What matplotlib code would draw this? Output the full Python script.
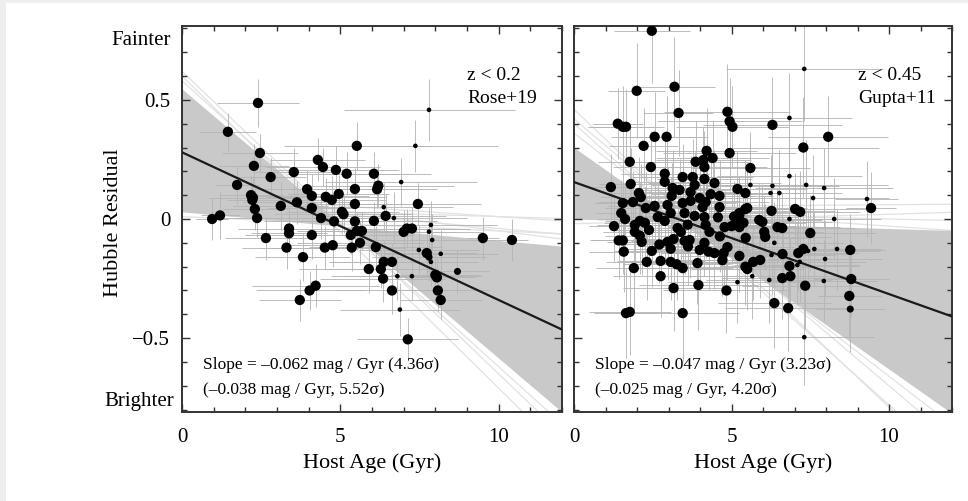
import numpy as np
import matplotlib
matplotlib.use('Agg')
import matplotlib.pyplot as plt
from matplotlib.patches import Rectangle
from matplotlib.ticker import MultipleLocator, FixedLocator, NullFormatter

plt.rcParams['font.family'] = ['Liberation Serif', 'DejaVu Serif']

# ---------------- Left panel data (z < 0.2, Rose+19) ----------------
l_age = [0.95, 1.20, 1.45, 1.74, 2.40, 2.27, 2.46, 2.18, 2.24, 2.22,
         2.30, 2.37, 2.65, 2.80, 3.12, 3.38, 3.38, 3.30, 3.53, 3.63,
         3.82, 3.72, 4.03, 4.22, 3.95, 4.10, 4.10, 4.10, 4.29, 4.45,
         4.39, 4.54, 4.51, 4.73, 4.80, 4.76, 4.86, 4.95, 5.05, 5.10,
         5.20, 5.33, 5.36, 5.46, 5.46, 5.46, 5.52, 5.52, 5.62, 5.68,
         5.90, 6.06, 6.06, 6.20, 6.16, 6.12, 6.28, 6.35, 6.37, 6.37,
         6.43, 6.63, 6.63, 6.69, 6.80, 6.88, 6.92, 7.00, 7.10, 7.13,
         7.26, 7.26, 7.37, 7.45, 7.48, 7.73, 7.80, 7.80, 7.86, 7.80,
         7.90, 7.86, 8.17, 8.00, 8.05, 8.08, 8.17, 8.70, 9.50, 10.42]
l_hr = [0.000, 0.015, 0.366, 0.143, 0.487, 0.223, 0.277, 0.100, 0.090, 0.080,
        0.042, 0.004, -0.080, 0.176, 0.055, -0.040, -0.060, -0.120, 0.197, 0.070,
        -0.160, -0.340, -0.300, -0.280, 0.125, 0.097, 0.046, -0.067, 0.248, 0.218,
        0.004, 0.093, -0.120, 0.080, -0.010, -0.110, 0.206, 0.105, 0.030, 0.020,
        0.190, -0.067, -0.120, 0.126, 0.063, -0.010, 0.307, -0.050, -0.100, -0.050,
        -0.210, 0.190, -0.008, 0.140, 0.125, -0.118, -0.210, -0.250, -0.180, 0.050,
        0.013, -0.180, -0.300, 0.004, -0.240, -0.380, 0.155, -0.054, -0.040, -0.505,
        -0.040, -0.240, 0.307, 0.063, -0.130, -0.143, -0.160, 0.458, -0.025, -0.053,
        -0.088, -0.180, -0.146, -0.235, -0.245, -0.300, -0.340, -0.220, -0.080, -0.088]
l_xerr = [0.5, 0.6, 0.9, 0.7, 1.3, 1.1, 1.2, 1.0, 1.4, 0.8,
          1.0, 1.2, 1.3, 1.1, 1.5, 1.6, 1.2, 1.4, 1.3, 1.7,
          1.5, 1.3, 1.7, 2.0, 1.6, 1.8, 1.4, 2.1, 1.5, 1.8,
          1.6, 1.9, 2.0, 1.7, 2.2, 1.5, 2.0, 1.6, 1.8, 2.2,
          1.9, 2.0, 1.7, 2.1, 1.6, 1.8, 2.3, 1.9, 2.0, 1.5,
          2.2, 1.8, 2.0, 2.4, 1.9, 2.1, 1.8, 2.0, 1.7, 2.2,
          1.9, 2.0, 1.8, 2.3, 2.1, 1.9, 2.4, 1.7, 2.0, 1.6,
          1.8, 2.2, 2.6, 2.0, 1.9, 1.6, 1.8, 2.7, 2.1, 1.7,
          2.0, 1.5, 1.8, 1.4, 1.2, 1.6, 1.3, 1.0, 0.5, 0.5]
l_yerr = [0.09, 0.10, 0.08, 0.08, 0.10, 0.09, 0.08, 0.08, 0.09, 0.07,
          0.09, 0.08, 0.09, 0.08, 0.10, 0.09, 0.08, 0.09, 0.10, 0.09,
          0.10, 0.09, 0.08, 0.09, 0.08, 0.09, 0.08, 0.10, 0.09, 0.08,
          0.09, 0.08, 0.09, 0.10, 0.08, 0.09, 0.10, 0.08, 0.09, 0.08,
          0.09, 0.08, 0.10, 0.09, 0.08, 0.09, 0.10, 0.08, 0.09, 0.08,
          0.10, 0.09, 0.08, 0.09, 0.08, 0.09, 0.08, 0.10, 0.09, 0.10,
          0.09, 0.08, 0.10, 0.11, 0.10, 0.11, 0.10, 0.09, 0.08, 0.09,
          0.09, 0.10, 0.11, 0.09, 0.10, 0.09, 0.10, 0.13, 0.10, 0.10,
          0.11, 0.10, 0.10, 0.09, 0.08, 0.09, 0.08, 0.09, 0.09, 0.09]
l_size = list("BBBBBBBBBB" "BBBBBBBBBB" "BBBBBBBBBB" "BBBBBBBBBB" "BBBBBBBBBB"
              "BBBBBBBBBS" "BBBSSSSBBB" "BSSBSBMSSS" "SSSBBBBMBB")

# ---------------- Right panel data (z < 0.45, Gupta+11) ----------------
r_age = [2.47, 1.99, 3.19, 3.32, 1.39, 1.55, 1.65, 2.56, 2.94, 2.21,
         4.87, 4.94, 5.03, 4.94, 5.60, 1.77, 2.44, 4.21, 4.40, 4.11,
         4.14, 3.86, 2.88, 2.88, 1.17, 1.80, 3.45, 3.77, 4.14, 4.46,
         4.62, 5.19, 5.44, 5.60, 2.06, 2.12, 3.13, 3.35, 3.70, 3.83,
         3.99, 1.55, 1.87, 2.28, 2.56, 2.97, 3.45, 3.70, 4.18, 4.62,
         5.25, 5.50, 7.31, 6.30, 6.84, 7.28, 8.07, 6.84, 6.30, 6.24,
         6.52, 7.37, 7.94, 7.59, 9.30, 9.43, 6.27, 7.02, 7.18, 6.84,
         8.26, 1.27, 1.42, 1.55, 1.58, 1.90, 2.31, 2.75, 2.75, 3.16,
         3.07, 3.26, 3.45, 3.45, 2.47, 2.15, 2.97, 3.16, 3.51, 3.67,
         1.93, 1.93, 2.09, 2.25, 2.66, 2.88, 3.29, 3.39, 3.07, 3.51,
         3.83, 4.14, 4.08, 3.92, 3.95, 3.99, 4.14, 4.27, 4.46, 4.75,
         4.87, 4.78, 4.84, 5.19, 5.25, 5.44, 5.50, 5.66, 4.18, 4.30,
         5.00, 5.19, 5.25, 5.44, 5.25, 5.38, 5.69, 1.65, 1.77, 5.88,
         5.98, 6.04, 6.07, 6.46, 6.61, 7.50, 6.36, 5.91, 6.27, 6.62,
         7.12, 7.28, 7.43, 7.63, 8.35, 8.77, 7.97, 7.09, 6.84, 6.61,
         6.87, 6.20, 7.93, 7.34, 8.80, 8.74, 8.77, 6.36, 6.80, 7.31,
         1.62, 1.50, 2.38, 2.71, 3.61, 4.57, 5.08, 2.09, 4.63, 5.45,
         3.07, 3.62, 4.71, 7.17, 4.34, 3.10]
r_hr = [0.790, 0.538, 0.555, 0.445, 0.400, 0.387, 0.387, 0.345, 0.345, 0.307,
        0.450, 0.410, 0.387, 0.277, 0.214, 0.240, 0.218, 0.286, 0.256, 0.248,
        0.218, 0.240, 0.190, 0.156, 0.134, 0.147, 0.176, 0.176, 0.168, 0.151,
        0.097, 0.126, 0.109, 0.143, 0.109, 0.092, 0.130, 0.122, 0.113, 0.143,
        0.088, 0.067, 0.071, 0.046, 0.055, 0.059, 0.067, 0.076, 0.071, 0.050,
        0.025, 0.046, 0.630, 0.395, 0.424, 0.300, 0.345, 0.180, 0.139, 0.109,
        0.109, 0.143, 0.130, 0.088, 0.084, 0.046, 0.034, 0.042, 0.030, 0.000,
        0.000, -0.030, -0.090, -0.090, -0.137, -0.206, -0.180, -0.240, -0.176, -0.290,
        -0.180, -0.190, -0.206, -0.395, -0.134, -0.096, -0.096, -0.084, -0.092, -0.088,
        -0.054, -0.025, -0.008, -0.016, 0.008, -0.008, -0.038, -0.054, 0.025, 0.025,
        0.013, 0.008, 0.050, -0.185, -0.277, -0.130, -0.100, -0.137, -0.143, -0.143,
        -0.118, -0.034, -0.300, -0.265, -0.155, -0.200, -0.210, -0.240, -0.025, -0.054,
        -0.030, -0.008, 0.017, 0.042, -0.034, -0.016, -0.180, -0.395, -0.390, -0.004,
        -0.012, -0.054, -0.075, -0.034, -0.038, -0.059, -0.100, -0.172, -0.151, -0.147,
        -0.143, -0.126, -0.134, -0.126, -0.126, -0.130, -0.168, -0.193, -0.197, -0.248,
        -0.240, -0.256, -0.260, -0.280, -0.252, -0.323, -0.378, -0.353, -0.374, -0.496,
        0.000, 0.025, -0.046, -0.107, -0.024, 0.007, 0.010, -0.070, -0.073, -0.079,
        -0.125, -0.115, -0.173, -0.180, 0.104, 0.097]
r_xerr = [1.2, 0.9, 1.3, 1.1, 0.8, 1.0, 1.2, 1.4, 1.3, 1.1,
          2.0, 2.3, 1.8, 2.1, 1.9, 1.0, 1.2, 1.6, 1.8, 1.5,
          2.0, 1.7, 1.4, 1.2, 0.7, 1.0, 1.6, 1.9, 1.5, 2.1,
          1.7, 2.2, 1.8, 2.4, 1.1, 1.3, 1.5, 1.6, 1.8, 1.4,
          1.9, 0.9, 1.1, 1.3, 1.5, 1.2, 1.7, 1.6, 2.0, 1.8,
          2.1, 1.9, 2.5, 2.2, 2.0, 2.4, 1.9, 2.3, 2.1, 1.8,
          2.0, 2.6, 2.2, 2.4, 1.0, 0.8, 2.0, 2.3, 1.9, 2.1,
          1.5, 0.8, 0.9, 1.0, 1.1, 1.2, 1.3, 1.5, 1.4, 1.6,
          1.5, 1.7, 1.6, 1.8, 1.2, 1.1, 1.4, 1.3, 1.7, 1.5,
          1.0, 1.2, 1.1, 1.3, 1.4, 1.2, 1.6, 1.5, 1.3, 1.7,
          1.8, 1.6, 1.9, 1.7, 1.9, 1.6, 1.8, 2.0, 1.7, 1.9,
          2.1, 1.8, 2.0, 2.2, 1.9, 2.1, 1.8, 2.3, 1.7, 1.9,
          2.0, 1.8, 2.1, 1.9, 1.7, 2.0, 2.2, 1.0, 1.3, 2.0,
          2.2, 1.9, 2.1, 2.0, 2.3, 2.1, 2.2, 1.9, 2.0, 2.2,
          1.9, 2.1, 2.3, 2.0, 1.4, 1.1, 1.8, 2.0, 2.2, 1.9,
          2.1, 2.0, 1.7, 2.0, 1.2, 1.0, 1.1, 1.8, 2.0, 2.2,
          0.9, 0.8, 1.2, 1.4, 1.6, 1.8, 2.0, 1.1, 1.9, 2.0,
          1.5, 1.6, 1.8, 2.1, 1.9, 1.4]
r_yerr = [0.22, 0.20, 0.21, 0.18, 0.15, 0.17, 0.16, 0.19, 0.17, 0.16,
          0.20, 0.18, 0.17, 0.16, 0.15, 0.14, 0.15, 0.18, 0.16, 0.14,
          0.15, 0.17, 0.15, 0.13, 0.14, 0.15, 0.14, 0.16, 0.15, 0.14,
          0.15, 0.16, 0.14, 0.18, 0.15, 0.14, 0.16, 0.13, 0.15, 0.14,
          0.15, 0.16, 0.13, 0.15, 0.14, 0.16, 0.15, 0.13, 0.15, 0.14,
          0.15, 0.16, 0.22, 0.20, 0.19, 0.21, 0.17, 0.18, 0.17, 0.16,
          0.18, 0.19, 0.17, 0.18, 0.16, 0.15, 0.16, 0.15, 0.17, 0.16,
          0.17, 0.15, 0.16, 0.14, 0.17, 0.18, 0.16, 0.17, 0.15, 0.18,
          0.16, 0.15, 0.17, 0.20, 0.15, 0.14, 0.16, 0.15, 0.14, 0.16,
          0.15, 0.14, 0.16, 0.15, 0.14, 0.16, 0.15, 0.14, 0.15, 0.16,
          0.14, 0.15, 0.16, 0.17, 0.19, 0.15, 0.14, 0.16, 0.15, 0.16,
          0.14, 0.15, 0.18, 0.17, 0.15, 0.16, 0.17, 0.18, 0.14, 0.15,
          0.16, 0.14, 0.15, 0.16, 0.15, 0.14, 0.16, 0.19, 0.18, 0.15,
          0.16, 0.15, 0.14, 0.16, 0.15, 0.16, 0.17, 0.16, 0.17, 0.15,
          0.16, 0.15, 0.17, 0.16, 0.17, 0.15, 0.16, 0.17, 0.16, 0.17,
          0.16, 0.18, 0.17, 0.18, 0.16, 0.17, 0.18, 0.19, 0.18, 0.20,
          0.15, 0.14, 0.15, 0.16, 0.15, 0.14, 0.15, 0.16, 0.15, 0.14,
          0.15, 0.16, 0.15, 0.17, 0.15, 0.14]
r_size = list("BBBBBBBBBB" "BBBBBBBBBB" "BBBBBBBBBB" "BBBSBBBBBB" "BBBBBBBBBB"
              "BBSBSBBSSS" "SSSSSBBBBS" "SBBBBBBBBB" "BBBBBBBBBB" "BBBBBBBBBB"
              "BBBBBBBBBB" "BBBSBBBSBB" "BBBBBBBBBB" "BBBBBBSBSB" "BBSSSBSSBB"
              "BSSBBBMBBS" "BBBBBBBBBB" "BBBSBB")

# ---------------- Fit lines and fan envelopes ----------------
l_fit = (0.28, -0.062)          # intercept, slope
r_fit = (0.155, -0.047)
l_fan = [(0.546, -0.113), (0.03, -0.012)]
r_fan = [(0.30, -0.093), (0.00, -0.004)]
l_fan_faint = [(0.58, -0.120), (0.62, -0.127), (0.60, -0.131), (0.08, -0.012),
               (0.01, -0.006), (0.12, -0.017), (0.10, -0.009), (0.05, -0.004)]
r_fan_faint = [(0.36, -0.102), (0.42, -0.112), (0.46, -0.125), (0.40, -0.118),
               (-0.02, 0.004), (0.03, -0.003), (0.06, -0.009), (0.05, 0.001)]

l_text = ["z < 0.2", "Rose+19", "Slope = –0.062 mag / Gyr (4.36σ)", "(–0.038 mag / Gyr, 5.52σ)"]
r_text = ["z < 0.45", "Gupta+11", "Slope = –0.047 mag / Gyr (3.23σ)", "(–0.025 mag / Gyr, 4.20σ)"]

size_map = {'B': 55, 'M': 26, 'S': 11}

fig = plt.figure(figsize=(9.68, 5.01), dpi=100)
fig.patch.set_facecolor('white')
fig.patches.append(Rectangle((0, 1 - 3 / 501), 1, 3 / 501, transform=fig.transFigure,
                             facecolor='#eeeeee', edgecolor='none', zorder=0))
fig.patches.append(Rectangle((0, 0), 6 / 968, 1, transform=fig.transFigure,
                             facecolor='#eeeeee', edgecolor='none', zorder=0))

axL = fig.add_axes([182 / 968, 1 - 412 / 501, 380 / 968, 386 / 501])
axR = fig.add_axes([574 / 968, 1 - 412 / 501, 378 / 968, 386 / 501])

panels = [
    (axL, l_age, l_hr, l_xerr, l_yerr, l_size, l_fit, l_fan, l_fan_faint, l_text),
    (axR, r_age, r_hr, r_xerr, r_yerr, r_size, r_fit, r_fan, r_fan_faint, r_text),
]

xx = np.linspace(0, 12, 200)
for ax, age, hr, xe, ye, sz, fit, fan, faint, txt in panels:
    n = min(len(age), len(hr), len(xe), len(ye), len(sz))
    age, hr, xe, ye, sz = age[:n], hr[:n], xe[:n], ye[:n], sz[:n]
    ax.set_xlim(0, 12)
    ax.set_ylim(-0.81, 0.81)
    # fan of fits
    for a, b in faint:
        ax.plot(xx, a + b * xx, color='#e2e2e2', lw=0.9, zorder=1)
    e1 = fan[0][0] + fan[0][1] * xx
    e2 = fan[1][0] + fan[1][1] * xx
    ax.fill_between(xx, np.minimum(e1, e2), np.maximum(e1, e2), color='#c9c9c9',
                    lw=0, zorder=1.5)
    # error bars
    ax.errorbar(age, hr, xerr=xe, yerr=ye, fmt='none', ecolor='#b5b5b5',
                elinewidth=0.7, capsize=0, zorder=2, alpha=0.9)
    # fit line
    ax.plot(xx, fit[0] + fit[1] * xx, color='#1a1a1a', lw=1.6, zorder=3)
    # points
    ax.scatter(age, hr, s=[size_map[c] for c in sz], color='black', lw=0, zorder=4)

    ax.xaxis.set_major_locator(FixedLocator([0, 5, 10]))
    ax.xaxis.set_minor_locator(MultipleLocator(1))
    ax.yaxis.set_major_locator(FixedLocator([-0.5, 0, 0.5]))
    ax.yaxis.set_minor_locator(MultipleLocator(0.1))
    ax.tick_params(which='both', direction='in', top=True, right=True,
                   color='#333333', width=1.0)
    ax.tick_params(which='major', length=6)
    ax.tick_params(which='minor', length=3.5)
    ax.tick_params(axis='x', which='major', labelsize=15, pad=11.5)
    ax.tick_params(axis='y', which='major', labelsize=15, pad=8.5)
    for sp in ax.spines.values():
        sp.set_linewidth(1.4)
        sp.set_color('#333333')
    ax.set_xticklabels(['0', '5', '10'])
    ax.set_xlabel('Host Age (Gyr)', fontsize=16)
    ax.xaxis.set_label_coords(0.5, -0.108)

    ax.text(0.751, 0.873, txt[0], transform=ax.transAxes, fontsize=14, va='center', ha='left')
    ax.text(0.751, 0.811, txt[1], transform=ax.transAxes, fontsize=14, va='center', ha='left')
    ax.text(0.056, 0.122, txt[2], transform=ax.transAxes, fontsize=12.5, va='center', ha='left')
    ax.text(0.056, 0.057, txt[3], transform=ax.transAxes, fontsize=12.5, va='center', ha='left')

axL.set_yticklabels(['−0.5', '0', '0.5'])
axR.yaxis.set_major_formatter(NullFormatter())
axL.set_ylabel('Hubble Residual', fontsize=16)
axL.yaxis.set_label_coords(-0.155, 0.49)
axL.text(-0.029, 0.75, 'Fainter', transform=axL.get_yaxis_transform(), fontsize=15,
         ha='right', va='center')
axL.text(-0.021, -0.765, 'Brighter', transform=axL.get_yaxis_transform(), fontsize=15,
         ha='right', va='center')

fig.savefig('out.png', dpi=100, facecolor=fig.get_facecolor())
